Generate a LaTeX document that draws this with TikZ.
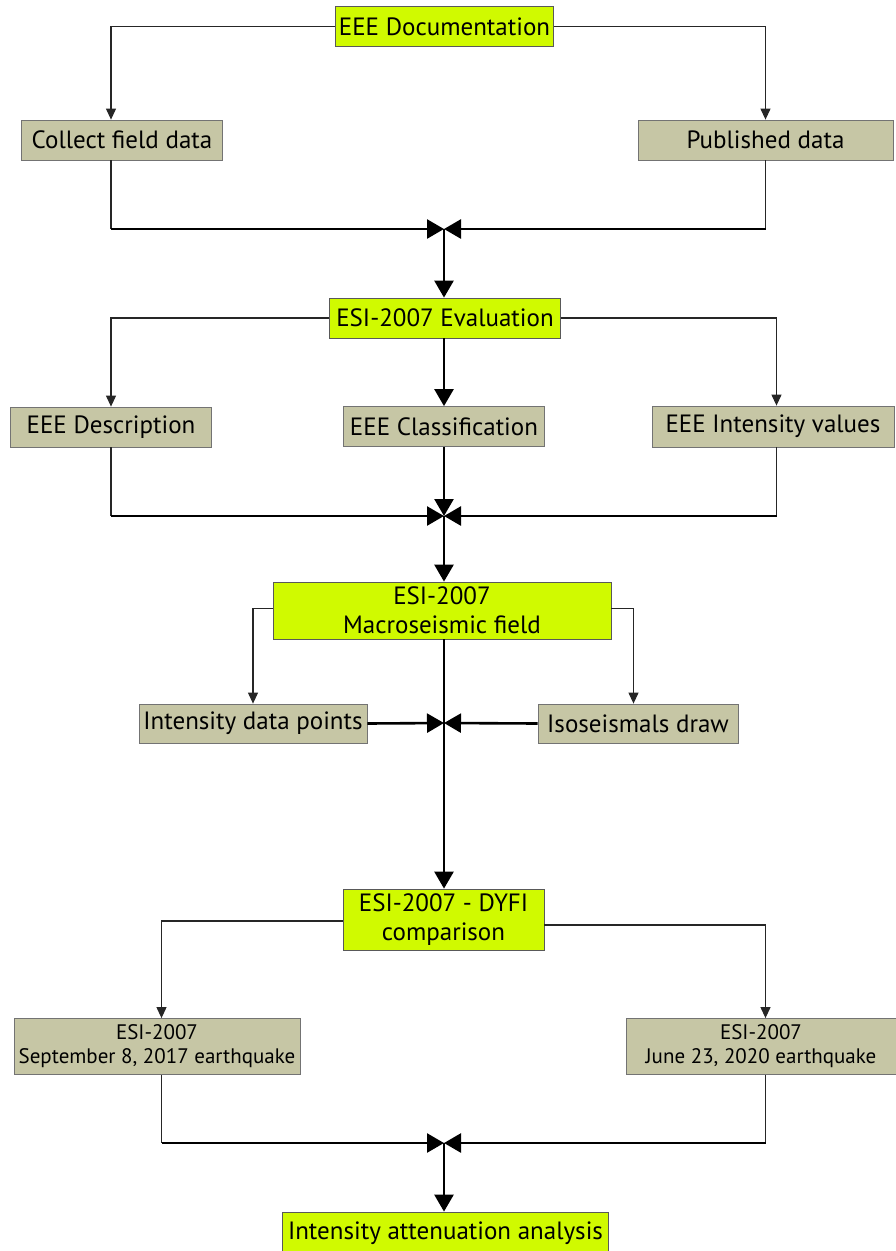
\documentclass[tikz,border=0pt]{standalone}
\usepackage{fontspec}
\setmainfont{PT Sans}
\usetikzlibrary{arrows.meta}
\definecolor{limeY}{RGB}{208,250,0}
\definecolor{khaki}{RGB}{198,198,165}
\tikzset{
  ybox/.style={draw=black!65, fill=limeY, line width=0.8pt, inner sep=0pt, align=center, text=black,
    font=\fontsize{25}{29}\selectfont},
  gbox/.style={draw=black!55, fill=khaki, line width=0.8pt, inner sep=0pt, align=center, text=black,
    font=\fontsize{25}{29}\selectfont},
  smallfont/.style={font=\fontsize{21}{24}\selectfont},
  thinln/.style={line width=1.1pt, draw=black!85},
  thinarr/.style={thinln, -{Triangle[length=11pt,width=10pt]}},
  thickln/.style={line width=2.6pt, draw=black},
  thickarr/.style={thickln, -{Triangle[length=17pt,width=19pt]}},
}
\begin{document}
\begin{tikzpicture}[x=1pt,y=-1pt]
\useasboundingbox (0,0) rectangle (895,1251);
% nodes
\node[ybox, minimum width=218pt, minimum height=40pt] (doc) at (444.5,26.5) {EEE Documentation};
\node[gbox, minimum width=201pt, minimum height=40pt] (collect) at (122,140) {Collect field data};
\node[gbox, minimum width=255pt, minimum height=40pt] (pub) at (765.5,140) {Published data};
\node[ybox, minimum width=231pt, minimum height=40pt] (eval) at (445,318) {ESI-2007 Evaluation};
\node[gbox, minimum width=201pt, minimum height=40pt] (desc) at (111,427) {EEE Description};
\node[gbox, minimum width=201pt, minimum height=40pt] (class) at (444,426.5) {EEE Classification};
\node[gbox, minimum width=242pt, minimum height=41pt] (intval) at (773,426.5) {EEE Intensity values};
\node[ybox, minimum width=338pt, minimum height=57pt] (macro) at (442,610.5) {ESI-2007\\Macroseismic field};
\node[gbox, minimum width=228pt, minimum height=39pt] (idp) at (253,723.5) {Intensity data points};
\node[gbox, minimum width=200pt, minimum height=39pt] (iso) at (638,723.5) {Isoseismals draw};
\node[ybox, minimum width=201pt, minimum height=61pt] (dyfi) at (443.5,919.5) {ESI-2007 - DYFI\\comparison};
\node[gbox, smallfont, minimum width=286pt, minimum height=56pt] (sept) at (157,1046.5) {ESI-2007\\September 8, 2017 earthquake};
\node[gbox, smallfont, minimum width=270pt, minimum height=56pt] (june) at (761,1046.5) {ESI-2007\\June 23, 2020 earthquake};
\node[ybox, minimum width=326pt, minimum height=42pt] (att) at (445.5,1233) {Intensity attenuation analysis};
% merge points
\coordinate (m1) at (444,229);
\coordinate (m2) at (444,516);
\coordinate (m3) at (444,723);
\coordinate (m4) at (444,1143);
% group 1
\draw[thinarr] (doc.west) -| ([xshift=-11pt]collect.north);
\draw[thinarr] (doc.east) -| (pub.north);
\draw[thinln] ([xshift=-11pt]collect.south) -- ([xshift=-11pt]collect.south |- m1);
\draw[thickarr] ([xshift=-11pt]collect.south |- m1) -- (m1);
\draw[thinln] (pub.south) -- (pub.south |- m1);
\draw[thickarr] (pub.south |- m1) -- (m1);
\draw[thickarr] (m1) -- (eval.north -| m1);
% group 2
\draw[thinarr] (eval.west) -| (desc.north);
\draw[thinarr] (eval.east) -| ([xshift=3.5pt]intval.north);
\draw[thickarr] (eval.south -| class.north) -- (class.north);
\draw[thinln] (desc.south) -- (desc.south |- m2);
\draw[thickarr] (desc.south |- m2) -- (m2);
\draw[thickarr] (class.south) -- (m2);
\draw[thinln] ([xshift=3.5pt]intval.south) -- ([xshift=3.5pt]intval.south |- m2);
\draw[thickarr] ([xshift=3.5pt]intval.south |- m2) -- (m2);
\draw[thickarr] (m2) -- (macro.north -| m2);
% group 3
\draw[thinarr] ([yshift=2pt]macro.west) -| (idp.north);
\draw[thinarr] ([yshift=2pt]macro.east) -| ([xshift=-4.5pt]iso.north);
\draw[thickarr] (idp.east) -- (m3);
\draw[thickarr] (iso.west) -- (m3);
\draw[thickarr] (macro.south -| m3) -- (dyfi.north -| m3);
% group 4
\draw[thinarr] ([yshift=-1.5pt]dyfi.west) -| ([xshift=4.5pt]sept.north);
\draw[thinarr] ([yshift=-5.5pt]dyfi.east) -| ([xshift=4.5pt]june.north);
\draw[thinln] ([xshift=4.5pt]sept.south) -- ([xshift=4.5pt]sept.south |- m4);
\draw[thickarr] ([xshift=4.5pt]sept.south |- m4) -- (m4);
\draw[thinln] ([xshift=4.5pt]june.south) -- ([xshift=4.5pt]june.south |- m4);
\draw[thickarr] ([xshift=4.5pt]june.south |- m4) -- (m4);
\draw[thickarr] (m4) -- (att.north -| m4);
\end{tikzpicture}
\end{document}
